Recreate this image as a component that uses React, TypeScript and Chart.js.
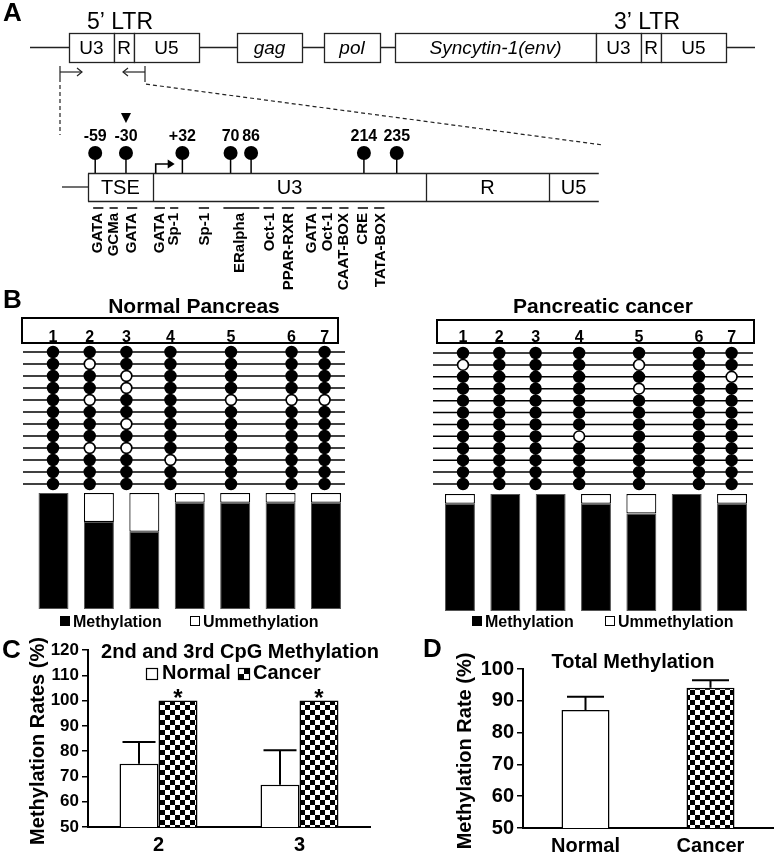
import React, { useEffect, useRef } from "react";
import { Chart, registerables } from "chart.js";

Chart.register(...registerables);

const SANS = '"Liberation Sans", Arial, Helvetica, sans-serif';

// ===== Panel A: 5' LTR promoter of Syncytin-1 (schematic, not to scale) =====
const cpgLabels = ["-59", "-30", "+32", "70", "86", "214", "235"];
// drawn position of each CpG along the promoter map (map units ~ bp, schematic)
const cpgMapPos = [-59, -29, 26, 73, 93, 203, 235];
const markedCpgIndex = 1;
const ltrRegionNames = ["TSE", "U3", "R", "U5"];
const ltrRegionStart = [-66, -3, 264, 383];
const ltrRegionEnd = [-3, 264, 383, 432];
const tfNames = ["GATA", "GCMa", "GATA", "GATA", "Sp-1", "Sp-1", "ERalpha", "Oct-1", "PPAR-RXR", "GATA", "Oct-1", "CAAT-BOX", "CRE", "TATA-BOX"];
const tfSites = [-56, -41, -23, 4, 18, 48, 82, 111, 130, 152, 168, 183, 202, 220];
const tfSpanStart = [-61, -45, -28, -1, 14, 42, 66, 105, 123, 147, 162, 179, 197, 213];
const tfSpanEnd = [-51, -37, -18, 9, 22, 52, 101, 115, 135, 157, 172, 188, 207, 223];

// ===== Panel B: bisulfite clones (1 = methylated, 0 = unmethylated) =====
const cpgSites = ["1", "2", "3", "4", "5", "6", "7"];
const cpgTrack = [0, 1, 2, 3.2, 4.85, 6.5, 7.4];
const normalClones = [
  "1111111",
  "1011111",
  "1101111",
  "1101111",
  "1011000",
  "1111111",
  "1101111",
  "1111111",
  "1001111",
  "1110111",
  "1111111",
  "1111111",
];
const cancerClones = [
  "1111111",
  "0111011",
  "1111110",
  "1111011",
  "1111111",
  "1111111",
  "1111111",
  "1110111",
  "1111111",
  "1111111",
  "1111111",
  "1111111",
];
const normalMethylated = [100, 75, 66.7, 91.7, 91.7, 91.7, 91.7];
const normalUnmethylated = [0, 25, 33.3, 8.3, 8.3, 8.3, 8.3];
const cancerMethylated = [91.7, 100, 100, 91.7, 83.3, 100, 91.7];
const cancerUnmethylated = [8.3, 0, 0, 8.3, 16.7, 0, 8.3];

// ===== Panel C =====
const cCategories = ["2", "3"];
const cNormal = [75, 66.7];
const cNormalErr = [8.6, 13.7];
const cCancer = [100, 100];

// ===== Panel D =====
const dCategories = ["Normal", "Cancer"];
const dValues = [87.1, 94.1];
const dErr = [4.2, 2.4];

function makeChecker(): CanvasPattern {
  const c = 5;
  const t = document.createElement("canvas");
  t.width = 2 * c;
  t.height = 2 * c;
  const g = t.getContext("2d")!;
  g.fillStyle = "#fff";
  g.fillRect(0, 0, 2 * c, 2 * c);
  g.fillStyle = "#000";
  g.fillRect(0, 0, c, c);
  g.fillRect(c, c, c, c);
  return g.createPattern(t, "repeat")!;
}

function seg(ctx: CanvasRenderingContext2D, x1: number, y1: number, x2: number, y2: number) {
  ctx.beginPath();
  ctx.moveTo(x1, y1);
  ctx.lineTo(x2, y2);
  ctx.stroke();
}

const panelAPlugin = {
  id: "panelA",
  beforeDatasetsDraw(chart: any) {
    const ctx: CanvasRenderingContext2D = chart.ctx;
    const X = (bp: number) => chart.scales.x.getPixelForValue(bp);
    ctx.save();
    ctx.fillStyle = "#000";
    ctx.strokeStyle = "#222";
    ctx.textBaseline = "alphabetic";
    ctx.font = `bold 26px ${SANS}`;
    ctx.textAlign = "left";
    ctx.fillText("A", 3, 21);
    ctx.font = `23px ${SANS}`;
    ctx.textAlign = "center";
    ctx.fillText("5\u2019 LTR", 120, 29);
    ctx.fillText("3\u2019 LTR", 647, 29);

    // proviral backbone
    ctx.lineWidth = 1.3;
    seg(ctx, 30, 47.5, 755, 47.5);
    const parts: [number, number, string, boolean][] = [
      [69, 114, "U3", false], [114, 134, "R", false], [134, 199, "U5", false],
      [237, 302, "gag", true], [324, 380, "pol", true], [395, 596, "Syncytin-1(env)", true],
      [596, 641, "U3", false], [641, 661, "R", false], [661, 726, "U5", false],
    ];
    ctx.textBaseline = "middle";
    for (const [a, b, name, it] of parts) {
      ctx.fillStyle = "#fff";
      ctx.fillRect(a, 33, b - a, 29);
      ctx.strokeRect(a + 0.5, 33.5, b - a, 29);
      ctx.fillStyle = "#000";
      ctx.font = `${it ? "italic " : ""}19px ${SANS}`;
      ctx.fillText(name, (a + b) / 2, 48.5);
    }

    // primers
    ctx.lineWidth = 1.2;
    seg(ctx, 60, 66, 60, 78);
    seg(ctx, 60, 72, 82, 72);
    ctx.beginPath(); ctx.moveTo(77, 68); ctx.lineTo(82, 72); ctx.lineTo(77, 76); ctx.stroke();
    seg(ctx, 145, 66, 145, 78);
    seg(ctx, 145, 72, 123, 72);
    ctx.beginPath(); ctx.moveTo(128, 68); ctx.lineTo(123, 72); ctx.lineTo(128, 76); ctx.stroke();
    ctx.setLineDash([4, 3]);
    seg(ctx, 60, 78, 60, 135);
    ctx.beginPath(); ctx.moveTo(145, 78); ctx.lineTo(145, 84); ctx.lineTo(603, 145); ctx.stroke();
    ctx.setLineDash([]);

    // marked CpG
    const mx = X(cpgMapPos[markedCpgIndex]);
    ctx.beginPath(); ctx.moveTo(mx - 5, 113); ctx.lineTo(mx + 5, 113); ctx.lineTo(mx, 123); ctx.closePath(); ctx.fill();

    // CpG labels and stems
    ctx.font = `bold 16px ${SANS}`;
    ctx.textBaseline = "alphabetic";
    cpgMapPos.forEach((p, i) => {
      ctx.fillText(cpgLabels[i], X(p), 141);
    });
    ctx.lineWidth = 1.5;
    ctx.strokeStyle = "#000";
    cpgMapPos.forEach((p) => seg(ctx, X(p), 153, X(p), 173));

    // LTR detail
    ctx.strokeStyle = "#222";
    ctx.lineWidth = 1.3;
    const L = X(ltrRegionStart[0]);
    const R = X(ltrRegionEnd[ltrRegionEnd.length - 1]);
    seg(ctx, 62, 187, L, 187);
    seg(ctx, L, 173.5, R, 173.5);
    seg(ctx, L, 201.5, R, 201.5);
    ctx.font = `20px ${SANS}`;
    ctx.textBaseline = "middle";
    ltrRegionNames.forEach((n, i) => {
      const a = X(ltrRegionStart[i]);
      const b = X(ltrRegionEnd[i]);
      seg(ctx, Math.round(a) + 0.5, 173.5, Math.round(a) + 0.5, 201.5);
      ctx.fillText(n, (a + b) / 2, 188);
    });

    // transcription start
    const tx = X(0);
    ctx.strokeStyle = "#000";
    ctx.lineWidth = 1.6;
    ctx.beginPath(); ctx.moveTo(tx, 173); ctx.lineTo(tx, 164); ctx.lineTo(tx + 14, 164); ctx.stroke();
    ctx.beginPath(); ctx.moveTo(tx + 12, 159.5); ctx.lineTo(tx + 19, 164); ctx.lineTo(tx + 12, 168.5); ctx.closePath(); ctx.fill();

    // transcription factor sites
    ctx.lineWidth = 1.5;
    tfNames.forEach((n, i) => {
      seg(ctx, X(tfSpanStart[i]), 208, X(tfSpanEnd[i]), 208);
      ctx.save();
      ctx.translate(X(tfSites[i]), 213);
      ctx.rotate(-Math.PI / 2);
      ctx.font = `bold 15px ${SANS}`;
      ctx.textAlign = "right";
      ctx.textBaseline = "middle";
      ctx.fillText(n, 0, 0);
      ctx.restore();
    });
    ctx.restore();
  },
};

function panelAChart(canvas: HTMLCanvasElement) {
  return new Chart(canvas, {
    type: "scatter",
    data: {
      datasets: [
        {
          data: cpgMapPos.map((x) => ({ x, y: 1 })),
          pointRadius: 7,
          pointHoverRadius: 7,
          pointBackgroundColor: "#000",
          pointBorderColor: "#000",
          pointBorderWidth: 0,
          clip: false,
        } as any,
      ],
    },
    options: {
      responsive: false,
      animation: false,
      events: [],
      layout: { padding: { left: 0, right: 0, top: 153, bottom: 100 } },
      scales: {
        x: { type: "linear", display: false, min: -145, max: 597 },
        y: { type: "linear", display: false, min: 0, max: 1 },
      },
      plugins: { legend: { display: false }, tooltip: { enabled: false } },
    },
    plugins: [panelAPlugin],
  });
}

interface LolliCfg {
  padding: { left: number; right: number; top: number; bottom: number };
  lineFrom: number;
  lineTo: number;
  title: string;
  titleX: number;
  box: [number, number, number, number];
  letter?: string;
}

function lollipopChart(canvas: HTMLCanvasElement, clones: string[], cfg: LolliCfg) {
  const points: { x: number; y: number }[] = [];
  const colors: string[] = [];
  clones.forEach((row, r) =>
    row.split("").forEach((v, c) => {
      points.push({ x: cpgTrack[c], y: r });
      colors.push(v === "1" ? "#000" : "#fff");
    })
  );
  return new Chart(canvas, {
    type: "scatter",
    data: {
      datasets: [
        {
          data: points,
          pointRadius: 5.4,
          pointHoverRadius: 5.4,
          pointBackgroundColor: colors,
          pointBorderColor: "#000",
          pointBorderWidth: 1.6,
          clip: false,
        } as any,
      ],
    },
    options: {
      responsive: false,
      animation: false,
      events: [],
      layout: { padding: cfg.padding },
      scales: {
        x: { type: "linear", display: false, min: 0, max: 7.4 },
        y: { type: "linear", display: false, min: 0, max: 11, reverse: true },
      },
      plugins: { legend: { display: false }, tooltip: { enabled: false } },
    },
    plugins: [
      {
        id: "lolli",
        beforeDatasetsDraw(chart: any) {
          const ctx: CanvasRenderingContext2D = chart.ctx;
          const ys = chart.scales.y;
          const xs = chart.scales.x;
          ctx.save();
          ctx.strokeStyle = "#000";
          ctx.lineWidth = 1.5;
          clones.forEach((_, r) => {
            const y = ys.getPixelForValue(r);
            seg(ctx, cfg.lineFrom, y, cfg.lineTo, y);
          });
          // box with site numbers
          ctx.lineWidth = 2;
          const [bx, by, bw, bh] = cfg.box;
          ctx.strokeRect(bx, by, bw, bh);
          ctx.fillStyle = "#000";
          ctx.font = `bold 16px ${SANS}`;
          ctx.textAlign = "center";
          ctx.textBaseline = "alphabetic";
          cpgSites.forEach((s, i) => ctx.fillText(s, xs.getPixelForValue(cpgTrack[i]), by + bh - 1));
          ctx.font = `bold 21px ${SANS}`;
          ctx.fillText(cfg.title, cfg.titleX, 28);
          if (cfg.letter) {
            ctx.textAlign = "left";
            ctx.font = `bold 26px ${SANS}`;
            ctx.fillText(cfg.letter, 3, 23);
          }
          ctx.restore();
        },
      },
    ],
  });
}

interface BarCfg {
  padding: { left: number; right: number; top: number; bottom: number };
  legendX: [number, number];
}

function methBarChart(canvas: HTMLCanvasElement, meth: number[], unmeth: number[], cfg: BarCfg) {
  return new Chart(canvas, {
    type: "bar",
    data: {
      labels: cpgSites,
      datasets: [
        { label: "Methylation", data: meth, backgroundColor: "#000", borderColor: "#555", borderWidth: 1, borderSkipped: false },
        { label: "Ummethylation", data: unmeth, backgroundColor: "#fff", borderColor: "#000", borderWidth: 1.2, borderSkipped: false },
      ],
    },
    options: {
      responsive: false,
      animation: false,
      events: [],
      layout: { padding: cfg.padding },
      datasets: { bar: { barPercentage: 0.66, categoryPercentage: 1 } },
      scales: {
        x: { display: false, stacked: true },
        y: { display: false, stacked: true, min: 0, max: 100 },
      },
      plugins: { legend: { display: false }, tooltip: { enabled: false } },
    },
    plugins: [
      {
        id: "methLegend",
        afterDraw(chart: any) {
          const ctx: CanvasRenderingContext2D = chart.ctx;
          const base = 139;
          ctx.save();
          ctx.font = `bold 16px ${SANS}`;
          ctx.textAlign = "left";
          ctx.textBaseline = "alphabetic";
          ctx.fillStyle = "#000";
          const [m, u] = cfg.legendX;
          ctx.fillRect(m, base - 11, 10, 10);
          ctx.fillText("Methylation", m + 13, base);
          ctx.strokeStyle = "#000";
          ctx.lineWidth = 1;
          ctx.strokeRect(u + 0.5, base - 10.5, 9, 9);
          ctx.fillText("Ummethylation", u + 13, base);
          ctx.restore();
        },
      },
    ],
  });
}

function drawRotated(ctx: CanvasRenderingContext2D, text: string, x: number, y: number, font: string) {
  ctx.save();
  ctx.translate(x, y);
  ctx.rotate(-Math.PI / 2);
  ctx.font = font;
  ctx.textAlign = "center";
  ctx.textBaseline = "middle";
  ctx.fillText(text, 0, 0);
  ctx.restore();
}

function drawErrorUp(ctx: CanvasRenderingContext2D, chart: any, dsIndex: number, values: number[], errs: number[], half: number) {
  const meta = chart.getDatasetMeta(dsIndex);
  const ys = chart.scales.y;
  ctx.save();
  ctx.strokeStyle = "#000";
  ctx.lineWidth = 2;
  meta.data.forEach((el: any, i: number) => {
    if (!errs[i]) return;
    const yTop = ys.getPixelForValue(values[i] + errs[i]);
    seg(ctx, el.x, el.y, el.x, yTop);
    seg(ctx, el.x - half, yTop, el.x + half, yTop);
  });
  ctx.restore();
}

function checkerBox(ctx: CanvasRenderingContext2D, x: number, y: number, s: number) {
  ctx.fillStyle = "#fff";
  ctx.fillRect(x, y, s, s);
  ctx.fillStyle = "#000";
  const h = s / 2;
  ctx.fillRect(x + h, y, h, h);
  ctx.fillRect(x, y + h, h, h);
  ctx.strokeStyle = "#000";
  ctx.lineWidth = 1.2;
  ctx.strokeRect(x + 0.5, y + 0.5, s - 1, s - 1);
}

function panelCChart(canvas: HTMLCanvasElement, checker: CanvasPattern) {
  return new Chart(canvas, {
    type: "bar",
    data: {
      labels: cCategories,
      datasets: [
        { label: "Normal", data: cNormal, backgroundColor: "#fff", borderColor: "#000", borderWidth: 1.5 },
        { label: "Cancer", data: cCancer, backgroundColor: checker as any, borderColor: "#000", borderWidth: 1.5 },
      ],
    },
    options: {
      responsive: false,
      animation: false,
      events: [],
      layout: { padding: { left: 0, right: 20, top: 20, bottom: 0 } },
      datasets: { bar: { categoryPercentage: 0.553, barPercentage: 1 } },
      scales: {
        x: {
          grid: { display: false, drawTicks: false },
          border: { display: true, color: "#000", width: 2 },
          ticks: { color: "#000", font: { family: SANS, size: 20, weight: "bold" }, padding: 6 },
          afterFit(s: any) { s.height = 29; },
        },
        y: {
          min: 50,
          max: 120,
          ticks: { stepSize: 10, color: "#000", font: { family: SANS, size: 17, weight: "bold" }, padding: 3 },
          grid: { drawOnChartArea: false, drawTicks: true, tickLength: 6, color: "#000", lineWidth: 1.5 },
          border: { display: true, color: "#000", width: 2 },
          afterFit(s: any) { s.width = 88; },
        },
      },
      plugins: { legend: { display: false }, tooltip: { enabled: false } },
    },
    plugins: [
      {
        id: "panelC",
        afterDatasetsDraw(chart: any) {
          const ctx: CanvasRenderingContext2D = chart.ctx;
          drawErrorUp(ctx, chart, 0, cNormal, cNormalErr, 16.5);
          const meta = chart.getDatasetMeta(1);
          ctx.save();
          ctx.fillStyle = "#000";
          ctx.font = `bold 24px ${SANS}`;
          ctx.textAlign = "center";
          ctx.textBaseline = "alphabetic";
          meta.data.forEach((el: any) => ctx.fillText("*", el.x, el.y + 5));
          ctx.restore();
        },
        afterDraw(chart: any) {
          const ctx: CanvasRenderingContext2D = chart.ctx;
          ctx.save();
          ctx.fillStyle = "#000";
          ctx.textBaseline = "alphabetic";
          ctx.textAlign = "left";
          ctx.font = `bold 26px ${SANS}`;
          ctx.fillText("C", 2, 28);
          ctx.textAlign = "center";
          ctx.font = `bold 20px ${SANS}`;
          ctx.fillText("2nd and 3rd CpG Methylation", 240, 28);
          // legend
          ctx.strokeStyle = "#000";
          ctx.lineWidth = 1.2;
          ctx.fillStyle = "#fff";
          ctx.fillRect(146, 38, 12, 12);
          ctx.strokeRect(146.5, 38.5, 11, 11);
          ctx.fillStyle = "#000";
          ctx.textAlign = "left";
          ctx.fillText("Normal", 162, 49);
          checkerBox(ctx, 238, 38, 12);
          ctx.fillStyle = "#000";
          ctx.fillText("Cancer", 253, 49);
          drawRotated(ctx, "Methylation Rates (%)", 38, 111, `bold 20px ${SANS}`);
          ctx.restore();
        },
      },
    ],
  });
}

function panelDChart(canvas: HTMLCanvasElement, checker: CanvasPattern) {
  return new Chart(canvas, {
    type: "bar",
    data: {
      labels: dCategories,
      datasets: [
        {
          label: "Total",
          data: dValues,
          backgroundColor: ["#fff", checker as any],
          borderColor: "#000",
          borderWidth: 1.5,
        },
      ],
    },
    options: {
      responsive: false,
      animation: false,
      events: [],
      layout: { padding: { left: 0, right: 2, top: 39, bottom: 0 } },
      datasets: { bar: { categoryPercentage: 1, barPercentage: 0.384 } },
      scales: {
        x: {
          grid: { display: false, drawTicks: false },
          border: { display: true, color: "#000", width: 2 },
          ticks: { color: "#000", font: { family: SANS, size: 20, weight: "bold" }, padding: 6 },
          afterFit(s: any) { s.height = 28; },
        },
        y: {
          min: 50,
          max: 100,
          ticks: { stepSize: 10, color: "#000", font: { family: SANS, size: 20, weight: "bold" }, padding: 3 },
          grid: { drawOnChartArea: false, drawTicks: true, tickLength: 6, color: "#000", lineWidth: 1.5 },
          border: { display: true, color: "#000", width: 2 },
          afterFit(s: any) { s.width = 133; },
        },
      },
      plugins: { legend: { display: false }, tooltip: { enabled: false } },
    },
    plugins: [
      {
        id: "panelD",
        afterDatasetsDraw(chart: any) {
          drawErrorUp(chart.ctx, chart, 0, dValues, dErr, 18.5);
        },
        afterDraw(chart: any) {
          const ctx: CanvasRenderingContext2D = chart.ctx;
          ctx.save();
          ctx.fillStyle = "#000";
          ctx.textBaseline = "alphabetic";
          ctx.textAlign = "left";
          ctx.font = `bold 26px ${SANS}`;
          ctx.fillText("D", 33, 27);
          ctx.textAlign = "center";
          ctx.font = `bold 20px ${SANS}`;
          ctx.fillText("Total Methylation", 243, 38);
          drawRotated(ctx, "Methylation Rate (%)", 75, 121, `bold 20px ${SANS}`);
          ctx.restore();
        },
      },
    ],
  });
}

const abs = (left: number, top: number, width: number, height: number): React.CSSProperties => ({
  position: "absolute",
  left,
  top,
  width,
  height,
});

export default function App() {
  const aRef = useRef<HTMLCanvasElement>(null);
  const bnRef = useRef<HTMLCanvasElement>(null);
  const bcRef = useRef<HTMLCanvasElement>(null);
  const bnBarRef = useRef<HTMLCanvasElement>(null);
  const bcBarRef = useRef<HTMLCanvasElement>(null);
  const cRef = useRef<HTMLCanvasElement>(null);
  const dRef = useRef<HTMLCanvasElement>(null);

  useEffect(() => {
    const checker = makeChecker();
    const charts: Chart[] = [];
    charts.push(panelAChart(aRef.current!));
    charts.push(
      lollipopChart(bnRef.current!, normalClones, {
        padding: { left: 53, right: 65.4, top: 67, bottom: 11 },
        lineFrom: 23,
        lineTo: 345,
        title: "Normal Pancreas",
        titleX: 194,
        box: [22, 33, 316, 25],
        letter: "B",
      })
    );
    charts.push(
      lollipopChart(bcRef.current!, cancerClones, {
        padding: { left: 73, right: 43.4, top: 68, bottom: 11 },
        lineFrom: 43,
        lineTo: 363,
        title: "Pancreatic cancer",
        titleX: 213,
        box: [47, 35, 317, 23],
      })
    );
    charts.push(
      methBarChart(bnBarRef.current!, normalMethylated, normalUnmethylated, {
        padding: { left: 30.8, right: 41.3, top: 5, bottom: 27 },
        legendX: [60, 190],
      })
    );
    charts.push(
      methBarChart(bcBarRef.current!, cancerMethylated, cancerUnmethylated, {
        padding: { left: 47.3, right: 20.3, top: 6, bottom: 25 },
        legendX: [82, 215],
      })
    );
    charts.push(panelCChart(cRef.current!, checker));
    charts.push(panelDChart(dRef.current!, checker));
    return () => charts.forEach((c) => c.destroy());
  }, []);

  return (
    <div style={{ position: "absolute", left: 0, top: 0, width: 775, height: 856, background: "#fff", overflow: "hidden" }}>
      <canvas ref={aRef} width={775} height={290} style={abs(0, 0, 775, 290)} />
      <canvas ref={bnRef} width={390} height={210} style={abs(0, 285, 390, 210)} />
      <canvas ref={bcRef} width={385} height={210} style={abs(390, 285, 385, 210)} />
      <canvas ref={bnBarRef} width={390} height={148} style={abs(0, 488, 390, 148)} />
      <canvas ref={bcBarRef} width={385} height={148} style={abs(390, 488, 385, 148)} />
      <canvas ref={cRef} width={390} height={226} style={abs(0, 630, 390, 226)} />
      <canvas ref={dRef} width={385} height={226} style={abs(390, 630, 385, 226)} />
    </div>
  );
}
